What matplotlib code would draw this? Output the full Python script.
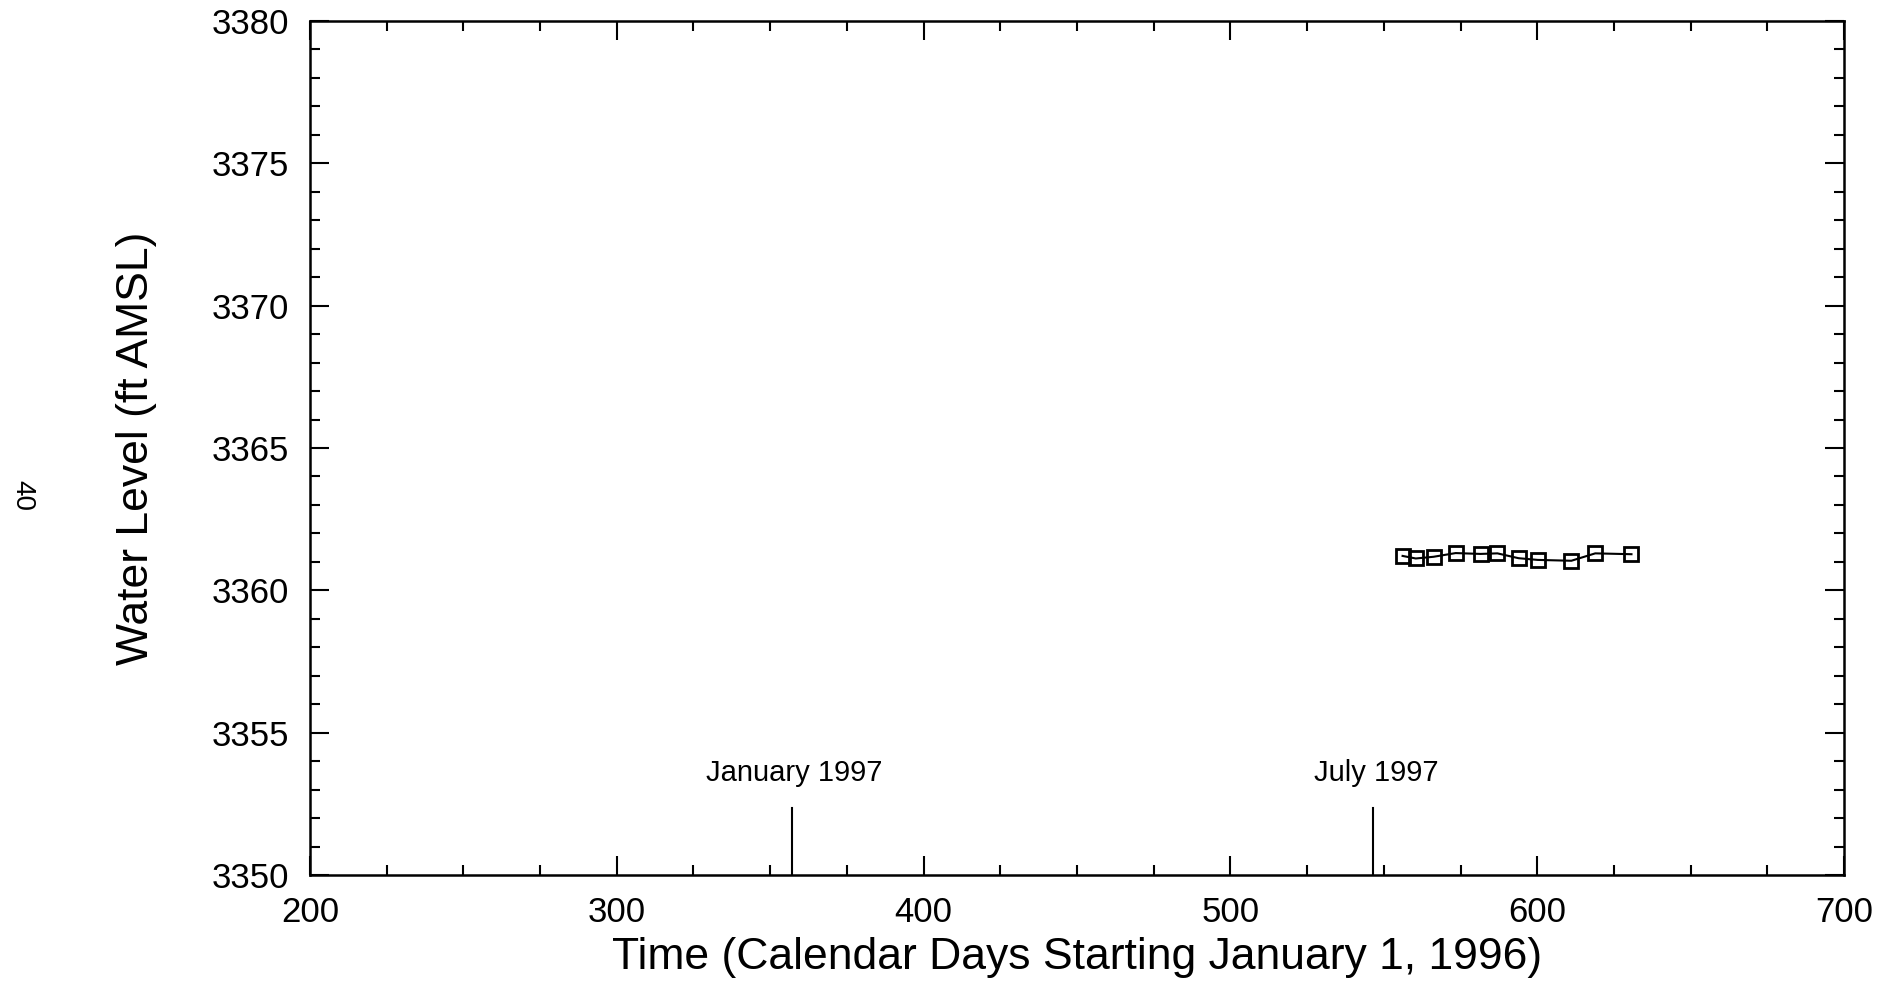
import numpy as np
import matplotlib
matplotlib.use("Agg")
import matplotlib.pyplot as plt
from matplotlib.ticker import MultipleLocator

plt.rcParams['font.family'] = ['Liberation Sans', 'DejaVu Sans']

# measured water levels (days since Jan 1 1996, ft AMSL)
days = [556.1, 560.4, 566.2, 573.4, 581.5, 587.0, 593.9, 600.1, 611.1, 618.9, 630.7]
levels = [3361.21, 3361.12, 3361.18, 3361.31, 3361.28, 3361.30,
          3361.13, 3361.07, 3361.04, 3361.30, 3361.27]

# calendar markers along the bottom
event_days = [357, 546.5]
event_labels = ['January 1997', 'July 1997']

fig = plt.figure(figsize=(18.99, 9.81), dpi=100)
ax = fig.add_axes([0.1632, 0.108, 0.9711 - 0.1632, 0.9786 - 0.108])

ax.plot(days, levels, color='black', linewidth=1.5, marker='s', markersize=10,
        markerfacecolor='none', markeredgecolor='black', markeredgewidth=2)

for d, lab in zip(event_days, event_labels):
    ax.plot([d, d], [3350, 3352.37], color='black', linewidth=1.5)
    ax.text(d + 1, 3353.3, lab, ha='center', va='baseline', fontsize=21)

ax.set_xlim(200, 700)
ax.set_ylim(3350, 3380)
ax.xaxis.set_major_locator(MultipleLocator(100))
ax.xaxis.set_minor_locator(MultipleLocator(25))
ax.yaxis.set_major_locator(MultipleLocator(5))
ax.yaxis.set_minor_locator(MultipleLocator(1))

ax.tick_params(which='both', direction='in', top=True, right=True,
               labelsize=25, pad=15, width=1.5, color='black')
ax.tick_params(which='major', length=14)
ax.tick_params(which='minor', length=7)

for s in ax.spines.values():
    s.set_linewidth(1.8)

ax.set_xlabel('Time (Calendar Days Starting January 1, 1996)', fontsize=32)
ax.set_ylabel('Water Level (ft AMSL)', fontsize=32)
ax.xaxis.set_label_coords(0.5, -0.0726)
ax.yaxis.set_label_coords(-0.0997, 0.5)

# page number on the scanned sheet
fig.text(22 / 1899, 1 - 496 / 981, '40', rotation=-90, ha='center', va='center',
         fontsize=20)

fig.savefig('out.png', dpi=100)
